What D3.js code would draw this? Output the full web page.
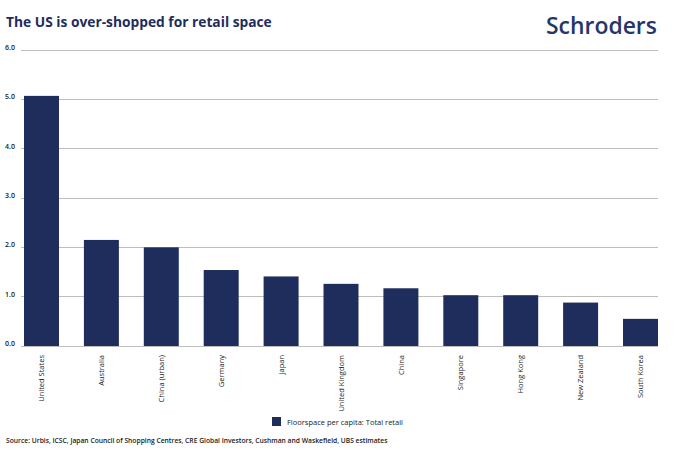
<!DOCTYPE html>
<html><head><meta charset="utf-8">
<script src="https://cdn.jsdelivr.net/npm/d3@7"></script>
<style>body{margin:0;background:#fff}svg{display:block}text{font-family:"Open Sans",sans-serif}</style>
</head><body><svg id="c" width="700" height="450"></svg>
<script>
const categories = ["United States","Australia","China (urban)","Germany","Japan","United Kingdom","China","Singapore","Hong Kong","New Zealand","South Korea"];
const values = [5.07,2.15,2.0,1.54,1.41,1.26,1.17,1.03,1.03,0.88,0.55];
const yTicks = [0,1,2,3,4,5,6];
const seriesName = "Floorspace per capita: Total retail";
const title = "The US is over-shopped for retail space";
const source = "Source: Urbis, ICSC, Japan Council of Shopping Centres, CRE Global Investors, Cushman and Waskefield, UBS estimates";
const navy = "#1e2d5c";

const svg = d3.select("#c");
const x = d3.scaleBand().domain(categories).range([24, 658]).paddingInner(0.416).paddingOuter(0);
const y = d3.scaleLinear().domain([0, 6]).range([346, 50]);

function fitText(sel, w){
  const n = sel.node(); const l = n.getComputedTextLength();
  const fs = parseFloat(sel.attr("font-size"));
  sel.attr("font-size", fs * w / l);
}

// title
const t = svg.append("text").attr("x", 6).attr("y", 27).attr("font-size", 16).attr("font-weight", 700)
  .attr("fill", navy).text(title);
fitText(t, 266);
// logo
const lg = svg.append("text").attr("x", 546).attr("y", 34).attr("font-size", 24).attr("font-weight", 600)
  .attr("fill", "#26356a").text("Schroders");
fitText(lg, 111);

// grid
const yAxis = d3.axisLeft(y).tickValues(yTicks).tickFormat(d3.format(".1f")).tickSize(0).tickPadding(6);
const ga = svg.append("g").attr("transform", "translate(21,0)").call(yAxis);
ga.select(".domain").remove();
ga.selectAll("text").attr("font-size", 7).attr("font-weight", 600).attr("fill", "#1a1a1a").attr("dy", "-0.05em")
  .style("font-family", "'Open Sans',sans-serif");
svg.append("g").selectAll("line").data(yTicks).join("line")
  .attr("x1", 21).attr("x2", 658).attr("y1", d => y(d)).attr("y2", d => y(d))
  .attr("stroke", "#bdbdbd").attr("stroke-width", 1).attr("shape-rendering", "crispEdges");

// bars
svg.append("g").selectAll("rect").data(values).join("rect")
  .attr("x", (d, i) => x(categories[i])).attr("width", x.bandwidth())
  .attr("y", d => y(d)).attr("height", d => y(0) - y(d))
  .attr("fill", navy);

// x labels
const xAxis = d3.axisBottom(x).tickSize(0).tickPadding(0);
const gx = svg.append("g").attr("transform", "translate(0,346)").call(xAxis);
gx.select(".domain").remove();
gx.selectAll("text").attr("transform", "rotate(-90)").attr("text-anchor", "end")
  .attr("x", -9).attr("y", 0).attr("dy", "0.35em").attr("font-size", 7.5).attr("fill", "#1a1a1a")
  .style("font-family", "'Open Sans',sans-serif");

// legend
svg.append("rect").attr("x", 272).attr("y", 417).attr("width", 9).attr("height", 9).attr("fill", navy);
svg.append("text").attr("x", 287).attr("y", 424.5).attr("font-size", 7.5).attr("fill", "#1a1a1a").text(seriesName);

// source
const s = svg.append("text").attr("x", 6).attr("y", 443).attr("font-size", 7.5).attr("font-weight", 600)
  .attr("fill", "#1a1a1a").text(source);
fitText(s, 382);
</script></body></html>
